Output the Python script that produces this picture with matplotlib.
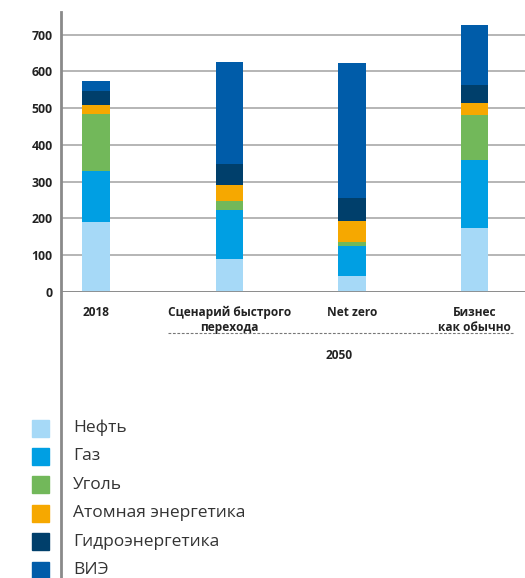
import matplotlib.pyplot as plt
from matplotlib.lines import Line2D
from matplotlib.patches import Rectangle

plt.rcParams['font.family'] = ['Open Sans', 'DejaVu Sans']

# данные (млн т н.э.)
categories = ["2018", "Сценарий быстрого\nперехода", "Net zero", "Бизнес\nкак обычно"]
positions = [0, 1.09, 2.09, 3.09]

oil = [190, 89, 43, 173]
gas = [139, 134, 81, 185]
coal = [155, 24, 11, 123]
nuclear = [24, 44, 57, 33]
hydro = [38, 57, 63, 49]
res = [28, 278, 368, 163]

series = [oil, gas, coal, nuclear, hydro, res]
names = ["Нефть", "Газ", "Уголь", "Атомная энергетика", "Гидроэнергетика", "ВИЭ"]
colors = ["#a6d9f7", "#009fe3", "#72b85a", "#f6a800", "#003f6b", "#005ca9"]

W, H = 525, 578
fig = plt.figure(figsize=(W / 100, H / 100), dpi=100)
ax = fig.add_axes([61 / W, 1 - 291.7 / H, 1 - 61 / W, (291.7 - 12) / H])

bottom = [0, 0, 0, 0]
for vals, c in zip(series, colors):
    ax.bar(positions, vals, width=0.225, bottom=bottom, color=c, zorder=3)
    bottom = [b + v for b, v in zip(bottom, vals)]

ax.set_ylim(0, 762)
ax.set_xlim(-0.286, 3.502)
ax.set_yticks(range(0, 701, 100))
ax.yaxis.grid(True, color="#b5b5b5", linewidth=1.4, zorder=0)
ax.axhline(0, color="#8a8a8a", linewidth=2, zorder=4)
for s in ax.spines.values():
    s.set_visible(False)

ax.tick_params(axis="y", length=0, pad=6, labelsize=8.8, labelcolor="#222222")
ax.tick_params(axis="x", length=0, pad=10, labelsize=8.6, labelcolor="#222222")
for t in ax.get_yticklabels():
    t.set_fontweight("bold")
ax.set_xticks(positions, categories, fontweight="bold", linespacing=1.25)

# левая ось через всю картинку
fig.add_artist(Line2D([61 / W, 61 / W], [1 - 12 / H, 0], color="#8a8a8a", linewidth=2))

# пунктир и подпись 2050
fig.add_artist(Line2D([168 / W, 513 / W], [1 - 332.7 / H] * 2, color="#777777",
                      linewidth=0.8, linestyle=(0, (2.5, 1.5))))
fig.text(339 / W, 1 - 355.7 / H, "2050", ha="center", va="center",
         fontsize=8.6, fontweight="bold", color="#222222")

# легенда
for i, (n, c) in enumerate(zip(names, colors)):
    yc = 428 + i * 28.4
    fig.add_artist(Rectangle((32 / W, 1 - (yc + 8.5) / H), 17 / W, 17 / H,
                             transform=fig.transFigure, color=c))
    fig.text(73 / W, 1 - yc / H, n, ha="left", va="center", fontsize=12.5, color="#333333")

fig.savefig("out.png", dpi=100)
